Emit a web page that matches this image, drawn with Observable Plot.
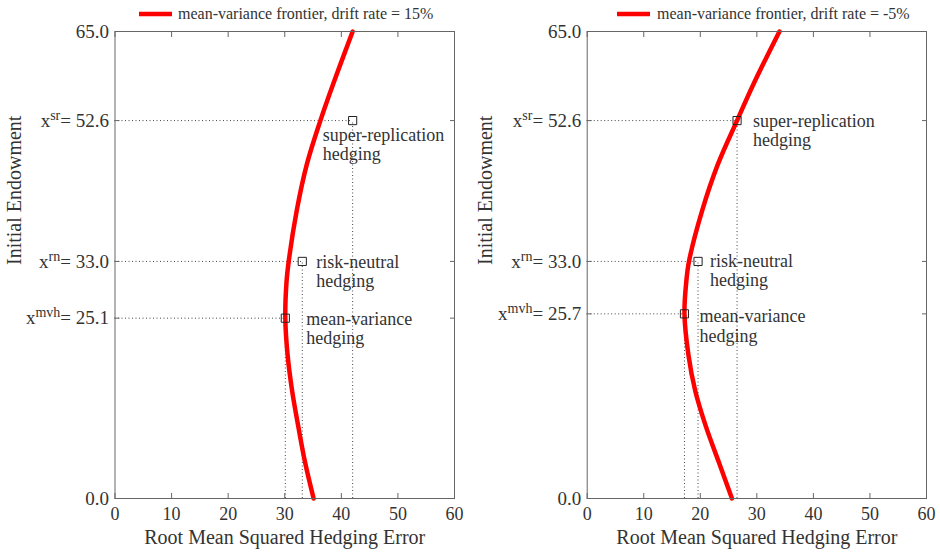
<!DOCTYPE html>
<html><head><meta charset="utf-8">
<script src="https://cdn.jsdelivr.net/npm/d3@7"></script>
<script src="https://cdn.jsdelivr.net/npm/@observablehq/plot@0.6"></script>
<style>
body{margin:0;background:#fff;}
#wrap{display:flex;width:940px;height:552px;}
</style></head><body><div id="wrap"></div>
<script>
const xTicks = [0, 10, 20, 30, 40, 50, 60];
const xTitle = "Root Mean Squared Hedging Error";
const yTitle = "Initial Endowment";

// Left panel (drift rate = 15%)
const leftLegend = "mean-variance frontier, drift rate = 15%";
const leftFrontierY = [0, 5, 10, 15, 20, 25.1, 30, 33, 40, 46.5, 52.6, 58, 65];
const leftFrontierX = [35.1, 33.6, 32.4, 31.3, 30.5, 30.1, 30.3, 30.7, 32.1, 33.9, 36.3, 38.7, 42.0];
const leftYTicks = [0, 25.1, 33.0, 52.6, 65.0];
const leftYTickSup = ["", "mvh", "rn", "sr", ""];
const leftPointNames = ["mean-variance\nhedging", "risk-neutral\nhedging", "super-replication\nhedging"];
const leftPointX = [30.1, 33.1, 42.0];
const leftPointY = [25.1, 33.0, 52.6];

// Right panel (drift rate = -5%)
const rightLegend = "mean-variance frontier, drift rate = -5%";
const rightFrontierY = [0, 5, 10, 15, 20, 25.7, 30, 33, 40, 46.5, 52.6, 58, 65];
const rightFrontierX = [25.6, 23.3, 21.0, 19.1, 17.9, 17.2, 17.5, 18.0, 20.3, 23.1, 26.5, 29.6, 34.0];
const rightYTicks = [0, 25.7, 33.0, 52.6, 65.0];
const rightYTickSup = ["", "mvh", "rn", "sr", ""];
const rightPointNames = ["mean-variance\nhedging", "risk-neutral\nhedging", "super-replication\nhedging"];
const rightPointX = [17.2, 19.6, 26.5];
const rightPointY = [25.7, 33.0, 52.6];

const FONT = "Liberation Serif, Times New Roman, serif";
const TXT = "#333";

function panel(cfg) {
  const frontier = cfg.fy.map((y, i) => ({x: cfg.fx[i], y}));
  const pts = cfg.px.map((x, i) => ({x, y: cfg.py[i], name: cfg.names[i]}));
  const dots = {stroke: "#444", strokeWidth: 1, strokeDasharray: "1,2.5"};
  const marks = [
    Plot.ruleY(pts, {x1: 0, x2: "x", y: "y", ...dots}),
    Plot.ruleX(pts, {x: "x", y1: 0, y2: "y", ...dots}),
    Plot.line(frontier, {x: "x", y: "y", stroke: "#ff0000", strokeWidth: 4.5, curve: "catmull-rom"}),
    Plot.dot(pts, {x: "x", y: "y", symbol: "square", r: 4.6, stroke: "#222", strokeWidth: 1, fill: "none"}),
    ...pts.map((p, i) => Plot.text([p], {x: "x", y: "y", text: "name", textAnchor: "start", lineAnchor: "middle",
      dx: cfg.off[i][0], dy: cfg.off[i][1], fontSize: 18, lineHeight: 1.06, fill: TXT})),
    Plot.frame({stroke: "#666"}),
    Plot.axisX({ticks: xTicks, anchor: "bottom", tickSize: 0, tickPadding: 9, label: null, fontSize: 18, fill: TXT}),
    Plot.axisX({ticks: xTicks, anchor: "bottom", tickSize: -5, tickFormat: () => "", label: null, stroke: "#666"}),
    Plot.axisX({ticks: xTicks, anchor: "top", tickSize: -5, tickFormat: () => "", label: null, stroke: "#666"}),
    Plot.axisY({ticks: cfg.yticks, anchor: "left", tickSize: 0, tickPadding: 6, tickFormat: d => d.toFixed(1), label: null, fontSize: 19, fill: TXT}),
    Plot.axisY({ticks: cfg.yticks, anchor: "left", tickSize: -5, tickFormat: () => "", label: null, stroke: "#666"}),
    Plot.axisY({ticks: cfg.yticks, anchor: "right", tickSize: -5, tickFormat: () => "", label: null, stroke: "#666"}),
    Plot.text([xTitle], {frameAnchor: "bottom", dy: 45, fontSize: 20, fill: TXT}),
    Plot.text([yTitle], {frameAnchor: "left", rotate: -90, dx: cfg.ytdx, fontSize: 20, fill: TXT})
  ];
  const svg = Plot.plot({
    width: 470, height: 552,
    marginTop: 31, marginBottom: 54, marginLeft: cfg.ml, marginRight: cfg.mr,
    x: {domain: [0, 60]},
    y: {domain: [0, 65]},
    style: {fontFamily: FONT, fontSize: "18px", color: TXT, background: "#fff"},
    marks
  });
  // drop empty tick-label texts from tick-only axes
  d3.select(svg).selectAll("text").filter(function () { return this.textContent === ""; }).remove();
  // superscripted y tick labels
  d3.select(svg).selectAll('g[aria-label="y-axis tick label"] text').each(function () {
    const t = d3.select(this);
    const s = t.text();
    const i = cfg.yticks.findIndex(v => v.toFixed(1) === s);
    if (i >= 0 && cfg.sup[i]) {
      t.text(null);
      t.append("tspan").text("x");
      t.append("tspan").attr("dy", -7).attr("font-size", 14).text(cfg.sup[i]);
      t.append("tspan").attr("dy", 7).text("= " + s);
    }
  });
  // legend
  const g = d3.select(svg).append("g");
  g.append("line").attr("x1", cfg.lg[0]).attr("x2", cfg.lg[1]).attr("y1", 14).attr("y2", 14)
    .attr("stroke", "#ff0000").attr("stroke-width", 4.5);
  g.append("text").attr("x", cfg.lg[2]).attr("y", 14).attr("dy", "0.32em").attr("text-anchor", "start")
    .attr("font-size", 16).attr("fill", TXT).attr("font-family", FONT).text(cfg.legend);
  return svg;
}

const wrap = document.getElementById("wrap");
wrap.appendChild(panel({
  fx: leftFrontierX, fy: leftFrontierY, px: leftPointX, py: leftPointY, names: leftPointNames,
  yticks: leftYTicks, sup: leftYTickSup, legend: leftLegend,
  off: [[21, 10], [14, 10], [-30, 24]], ml: 114.5, mr: 16, ytdx: -100, lg: [139, 172, 178]
}));
wrap.appendChild(panel({
  fx: rightFrontierX, fy: rightFrontierY, px: rightPointX, py: rightPointY, names: rightPointNames,
  yticks: rightYTicks, sup: rightYTickSup, legend: rightLegend,
  off: [[15, 12], [12, 9], [16, 9.5]], ml: 116.7, mr: 14, ytdx: -102, lg: [147, 180, 187]
}));
</script></body></html>
